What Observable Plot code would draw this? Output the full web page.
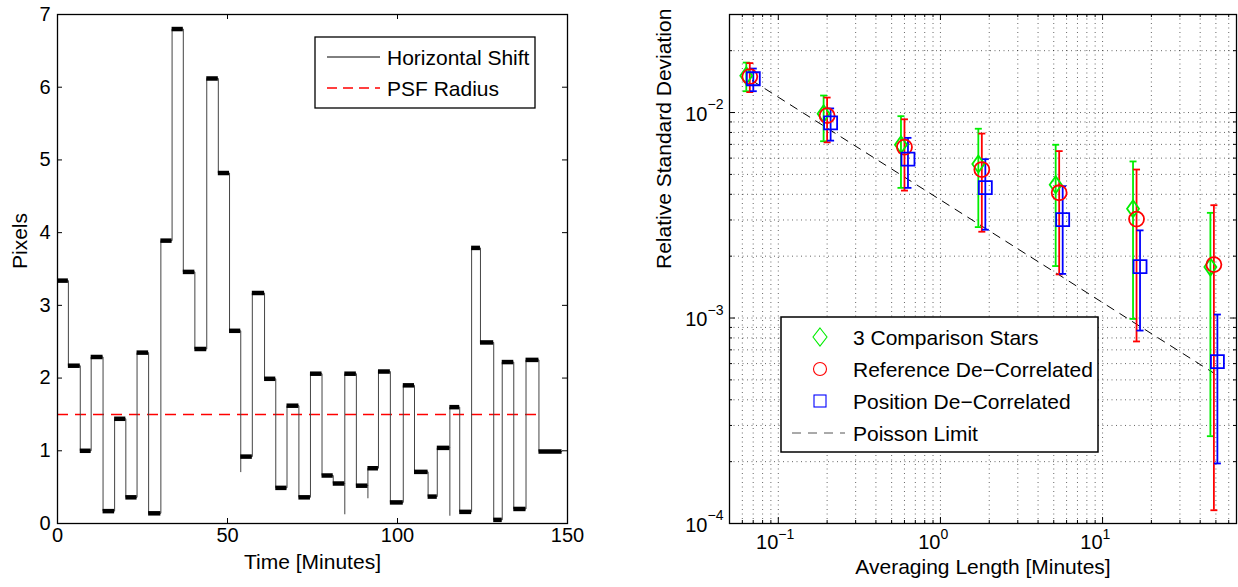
<!DOCTYPE html>
<html><head><meta charset="utf-8">
<script src="https://cdn.jsdelivr.net/npm/d3@7"></script>
<script src="https://cdn.jsdelivr.net/npm/@observablehq/plot@0.6"></script>
<style>
body{margin:0;background:#fff;}
#wrap{position:relative;width:1238px;height:587px;font-family:"Liberation Sans",Arial,Helvetica,sans-serif;}
#wrap > *{position:absolute;top:0;}
</style></head><body><div id="wrap"></div>
<script>
// ---------- Left panel data: horizontal shift (step levels) ----------
const shiftStart = [0, 3.2, 6.7, 9.9, 13.4, 16.8, 20.1, 23.4, 26.8, 30.4, 33.7, 37.0, 40.4, 43.9, 47.3, 50.6, 53.9, 57.3, 60.9, 64.2, 67.5, 71.0, 74.4, 77.8, 81.1, 84.5, 87.9, 91.3, 94.4, 97.9, 101.7, 105.0, 109.0, 111.7, 115.4, 118.3, 121.8, 124.4, 128.3, 130.8, 134.2, 137.8, 141.6];
const shiftLevel = [3.34, 2.17, 1.00, 2.29, 0.17, 1.44, 0.36, 2.35, 0.14, 3.89, 6.80, 3.46, 2.40, 6.12, 4.82, 2.65, 0.92, 3.17, 1.99, 0.49, 1.62, 0.36, 2.06, 0.66, 0.55, 2.06, 0.52, 0.76, 2.09, 0.29, 1.90, 0.71, 0.37, 1.04, 1.60, 0.16, 3.79, 2.49, 0.05, 2.22, 0.20, 2.25, 0.99];
const shiftEndTime = 148.4;
const spikeTime = [53.9, 84.5, 91.3, 115.4];
const spikeValue = [0.70, 0.12, 0.34, 0.10];
const psfRadius = 1.5;
const psfStartTime = 0;
const psfEndTime = 141.4;
const leftXTicks = [0, 50, 100, 150];
const leftYTicks = [0, 1, 2, 3, 4, 5, 6, 7];

// ---------- Right panel data ----------
const avgLength = [0.0667, 0.2, 0.6, 1.8, 5.4, 16.2, 48.6];
const compStars = [0.0151, 0.00986, 0.00697, 0.00562, 0.00445, 0.0034, 0.00177];
const compLo    = [0.0127, 0.00725, 0.0043, 0.00277, 0.00179, 0.00099, 0.000266];
const compHi    = [0.0175, 0.0121, 0.0096, 0.00834, 0.00697, 0.00578, 0.00325];
const refDecor  = [0.01496, 0.00966, 0.00678, 0.00528, 0.00407, 0.00303, 0.00182];
const refLo     = [0.01257, 0.00716, 0.00417, 0.00263, 0.00163, 0.000769, 0.000116];
const refHi     = [0.0174, 0.01183, 0.00927, 0.0079, 0.00649, 0.00528, 0.00354];
const posDecor  = [0.0146, 0.0089, 0.00593, 0.00431, 0.00301, 0.00178, 0.000614];
const posLo     = [0.0127, 0.0073, 0.0043, 0.00269, 0.00164, 0.000869, 0.000196];
const posHi     = [0.01637, 0.01047, 0.00753, 0.00593, 0.00438, 0.00267, 0.00104];
const poissonLimit = [0.01455, 0.0084, 0.00485, 0.0028, 0.00162, 0.000933, 0.000539];
const xTickValues = [0.1, 1, 10];
const xTickExp = ["\u22121", "0", "1"];
const yTickValues = [1e-4, 1e-3, 1e-2];
const yTickExp = ["\u22124", "\u22123", "\u22122"];

const FONT = '"Liberation Sans", Arial, Helvetica, sans-serif';
const wrap = document.getElementById("wrap");

// ---------- Left panel ----------
{
  const W = 620, H = 587, mt = 14, mb = 64, ml = 57, mr = 53;
  const innerW = W - ml - mr, innerH = H - mt - mb;
  const n = shiftStart.length;
  const plateaus = shiftStart.map((s, i) => ({x1: s, x2: i < n - 1 ? shiftStart[i + 1] : shiftEndTime, y: shiftLevel[i]}));
  const stepPts = shiftStart.map((s, i) => ({x: s, y: shiftLevel[i]}));
  stepPts.push({x: shiftEndTime, y: shiftLevel[n - 1]});
  const spikes = spikeTime.map((t, i) => {
    const k = shiftStart.findIndex(s => Math.abs(s - t) < 1e-6);
    return {x: t, y1: spikeValue[i], y2: Math.min(shiftLevel[k - 1], shiftLevel[k])};
  });
  const left = Plot.plot({
    width: W, height: H, marginTop: mt, marginBottom: mb, marginLeft: ml, marginRight: mr,
    x: {domain: [0, 150], axis: null},
    y: {domain: [0, 7], axis: null},
    style: {fontFamily: FONT, background: "white", overflow: "visible"},
    marks: [
      Plot.ruleY([psfRadius], {y: d => d, x1: psfStartTime, x2: psfEndTime, stroke: "#ff0000", strokeWidth: 1.6, strokeDasharray: "11,7"}),
      Plot.line(stepPts, {x: "x", y: "y", curve: "step-after", stroke: "#444", strokeWidth: 1}),
      Plot.ruleX(spikes, {x: "x", y1: "y1", y2: "y2", stroke: "#444", strokeWidth: 1}),
      Plot.ruleY(plateaus, {x1: "x1", x2: "x2", y: "y", stroke: "#000", strokeWidth: 4.5}),
      Plot.frame({stroke: "#000", strokeWidth: 1.3}),
      Plot.tickX(leftXTicks, {x: d => d, insetTop: innerH - 5, stroke: "#000"}),
      Plot.tickX(leftXTicks, {x: d => d, insetBottom: innerH - 5, stroke: "#000"}),
      Plot.tickY(leftYTicks, {y: d => d, insetRight: innerW - 5, stroke: "#000"}),
      Plot.tickY(leftYTicks, {y: d => d, insetLeft: innerW - 5, stroke: "#000"}),
      Plot.text(leftXTicks, {x: d => d, text: d => String(d), frameAnchor: "bottom", dy: 18, fontSize: 20, fill: "#000"}),
      Plot.text(leftYTicks, {y: d => d, text: d => String(d), frameAnchor: "left", textAnchor: "end", dx: -7, fontSize: 20, fill: "#000"}),
      Plot.text(["Time [Minutes]"], {text: d => d, frameAnchor: "bottom", dy: 45, fontSize: 21, fill: "#000"}),
      Plot.text(["Pixels"], {text: d => d, frameAnchor: "left", dx: -37, rotate: -90, fontSize: 21, fill: "#000"})
    ]
  });
  left.style.left = "0px";
  wrap.appendChild(left);
}

// ---------- Right panel ----------
{
  const W = 618, H = 587, mt = 14, mb = 64, ml = 109, mr = 2;
  const innerW = W - ml - mr, innerH = H - mt - mb;
  const xDom = [0.05, 67], yDom = [1e-4, 0.03];
  const minor = (dom) => {
    const out = [];
    for (let k = -5; k <= 3; k++) for (let m = 1; m <= 9; m++) {
      const v = +(m * Math.pow(10, k)).toPrecision(6);
      if (v >= dom[0] * 0.999 && v <= dom[1] * 1.001) out.push(v);
    }
    return out;
  };
  const xGrid = minor(xDom), yGrid = minor(yDom);
  const xMinor = xGrid.filter(v => !xTickValues.includes(v));
  const yMinor = yGrid.filter(v => !yTickValues.includes(v));
  const mk = (vals, lo, hi) => avgLength.map((x, i) => ({x, y: vals[i], lo: lo[i], hi: hi[i]}));
  const green = mk(compStars, compLo, compHi);
  const red = mk(refDecor, refLo, refHi);
  const blue = mk(posDecor, posLo, posHi);
  const poisson = avgLength.map((x, i) => ({x, y: poissonLimit[i]}));
  const cap = {draw(ctx) { ctx.moveTo(-3.5, 0); ctx.lineTo(3.5, 0); }};
  const diamond = {draw(ctx) { ctx.moveTo(0, -8.5); ctx.lineTo(6, 0); ctx.lineTo(0, 8.5); ctx.lineTo(-6, 0); ctx.closePath(); }};
  const square = {draw(ctx) { ctx.rect(-6.5, -6.5, 13, 13); }};
  const errMarks = (data, color, dx) => [
    Plot.ruleX(data, {x: "x", y1: "lo", y2: "hi", stroke: color, strokeWidth: 1.8, dx}),
    Plot.dot(data, {x: "x", y: "hi", symbol: cap, stroke: color, strokeWidth: 1.8, dx}),
    Plot.dot(data, {x: "x", y: "lo", symbol: cap, stroke: color, strokeWidth: 1.8, dx})
  ];
  const right = Plot.plot({
    width: W, height: H, marginTop: mt, marginBottom: mb, marginLeft: ml, marginRight: mr,
    x: {type: "log", domain: xDom, axis: null},
    y: {type: "log", domain: yDom, axis: null},
    style: {fontFamily: FONT, background: "white", overflow: "visible"},
    marks: [
      Plot.ruleX(xGrid, {x: d => d, stroke: "#000", strokeOpacity: 0.6, strokeDasharray: "1,3.5"}),
      Plot.ruleY(yGrid, {y: d => d, stroke: "#000", strokeOpacity: 0.6, strokeDasharray: "1,3.5"}),
      Plot.line(poisson, {x: "x", y: "y", stroke: "#000", strokeWidth: 1, strokeDasharray: "8,7", strokeDashoffset: 12}),
      ...errMarks(green, "#00ee00", -3.5),
      ...errMarks(red, "#ff0000", 0),
      ...errMarks(blue, "#0000ff", 3.5),
      Plot.dot(green, {x: "x", y: "y", symbol: diamond, stroke: "#00ee00", fill: "none", strokeWidth: 1.8, dx: -3.5}),
      Plot.dot(red, {x: "x", y: "y", r: 7.5, stroke: "#ff0000", fill: "none", strokeWidth: 1.8}),
      Plot.dot(blue, {x: "x", y: "y", symbol: square, stroke: "#0000ff", fill: "none", strokeWidth: 1.8, dx: 3.5}),
      Plot.frame({stroke: "#000", strokeWidth: 1.3}),
      Plot.tickX(xTickValues, {x: d => d, insetTop: innerH - 6, stroke: "#000"}),
      Plot.tickX(xTickValues, {x: d => d, insetBottom: innerH - 6, stroke: "#000"}),
      Plot.tickX(xMinor, {x: d => d, insetTop: innerH - 3, stroke: "#000"}),
      Plot.tickX(xMinor, {x: d => d, insetBottom: innerH - 3, stroke: "#000"}),
      Plot.tickY(yTickValues, {y: d => d, insetRight: innerW - 6, stroke: "#000"}),
      Plot.tickY(yTickValues, {y: d => d, insetLeft: innerW - 6, stroke: "#000"}),
      Plot.tickY(yMinor, {y: d => d, insetRight: innerW - 3, stroke: "#000"}),
      Plot.tickY(yMinor, {y: d => d, insetLeft: innerW - 3, stroke: "#000"}),
      Plot.text(xTickValues, {x: d => d, text: () => "10", frameAnchor: "bottom", textAnchor: "end", dy: 25, fontSize: 20, fill: "#000"}),
      Plot.text(xTickValues, {x: d => d, text: (d, i) => xTickExp[i], frameAnchor: "bottom", textAnchor: "start", dy: 15, fontSize: 14, fill: "#000"}),
      Plot.text(yTickValues, {y: d => d, text: () => "10", frameAnchor: "left", textAnchor: "end", dx: -22, dy: 2, fontSize: 20, fill: "#000"}),
      Plot.text(yTickValues, {y: d => d, text: (d, i) => yTickExp[i], frameAnchor: "left", textAnchor: "start", dx: -22, dy: -8, fontSize: 14, fill: "#000"}),
      Plot.text(["Averaging Length [Minutes]"], {text: d => d, frameAnchor: "bottom", dy: 50, fontSize: 21, fill: "#000"}),
      Plot.text(["Relative Standard Deviation"], {text: d => d, frameAnchor: "left", dx: -65, rotate: -90, fontSize: 21, fill: "#000"})
    ]
  });
  right.style.left = "620px";
  wrap.appendChild(right);
}

// ---------- Legends (overlay) ----------
{
  const ns = "http://www.w3.org/2000/svg";
  const svg = document.createElementNS(ns, "svg");
  svg.setAttribute("width", 1238); svg.setAttribute("height", 587);
  svg.style.left = "0px"; svg.style.pointerEvents = "none";
  const el = (tag, attrs, text) => {
    const e = document.createElementNS(ns, tag);
    for (const k in attrs) e.setAttribute(k, attrs[k]);
    if (text != null) e.textContent = text;
    svg.appendChild(e); return e;
  };
  const label = (x, y, t) => el("text", {x, y, "dominant-baseline": "central", "font-size": 21, "font-family": FONT, fill: "#000"}, t);
  // left legend
  el("rect", {x: 315, y: 37, width: 220, height: 71, fill: "#fff", stroke: "#000", "stroke-width": 1.3});
  el("line", {x1: 327, x2: 380, y1: 57, y2: 57, stroke: "#000", "stroke-width": 1});
  label(387, 57, "Horizontal Shift");
  el("line", {x1: 327, x2: 380, y1: 88, y2: 88, stroke: "#ff0000", "stroke-width": 1.6, "stroke-dasharray": "10,6"});
  label(387, 88, "PSF Radius");
  // right legend
  el("rect", {x: 781, y: 317, width: 317, height: 135, fill: "#fff", stroke: "#000", "stroke-width": 1.5});
  el("path", {d: "M820,328 L827,337 L820,346 L813,337 Z", fill: "none", stroke: "#00ee00", "stroke-width": 1.1});
  label(853, 337, "3 Comparison Stars");
  el("circle", {cx: 820, cy: 369, r: 6.5, fill: "none", stroke: "#ff0000", "stroke-width": 1.1});
  label(853, 369, "Reference De\u2212Correlated");
  el("rect", {x: 814, y: 395, width: 12, height: 12, fill: "none", stroke: "#0000ff", "stroke-width": 1.1});
  label(853, 401, "Position De\u2212Correlated");
  el("line", {x1: 792, x2: 845, y1: 433, y2: 433, stroke: "#555", "stroke-width": 1, "stroke-dasharray": "9,7"});
  label(853, 433, "Poisson Limit");
  wrap.appendChild(svg);
}
</script></body></html>
